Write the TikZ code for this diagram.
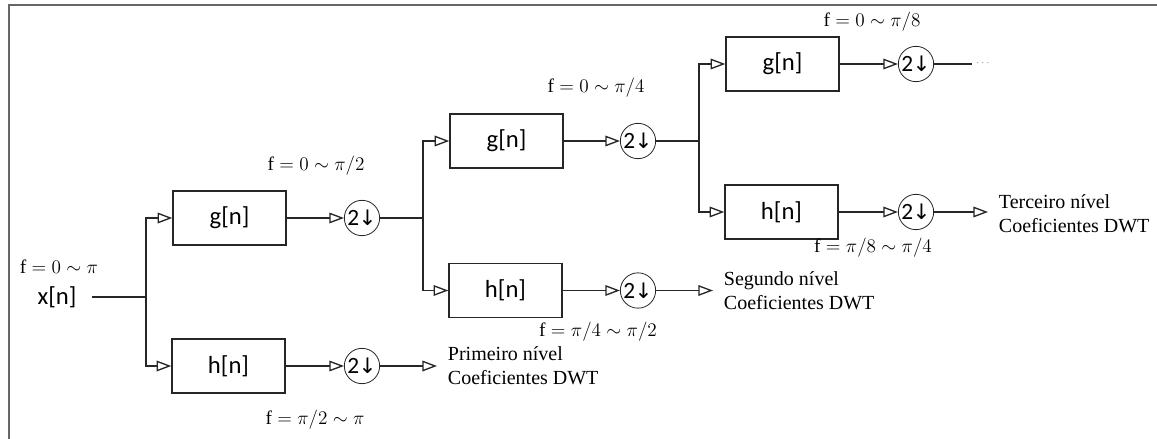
\documentclass[tikz,border=0pt]{standalone}
\usepackage{fontspec}
\setmainfont{Liberation Serif}
\usetikzlibrary{arrows.meta}
\newfontfamily\calib{Carlito}
\newfontfamily\djv{DejaVu Sans}
\begin{document}
\begin{tikzpicture}[x=0.75pt,y=-0.75pt,
  line/.style={draw=black!85, line width=1pt},
  arr/.style={line, -{Triangle[open, length=11pt, width=8pt]}},
  filt/.style={draw=black!85, line width=1.1pt, minimum width=84.75pt, minimum height=40.5pt, inner sep=0pt, font=\calib\fontsize{18.5}{21}\selectfont},
  ds/.style={circle, draw=black!85, line width=0.6pt, minimum size=26.5pt, inner sep=0pt, font=\calib\fontsize{17.5}{19}\selectfont},
  freq/.style={inner sep=0pt, font=\fontsize{14.5}{17}\selectfont},
  outtxt/.style={anchor=west, align=left, inner xsep=8pt, inner ysep=0pt, font=\fontsize{15}{18}\selectfont}]
\useasboundingbox (0,0) rectangle (1157,439);
\draw[draw=black!60, line width=1.5pt] (8.5,439) -- (8.5,4.5) -- (1157,4.5);

% input
\node[inner sep=0pt, outer xsep=12pt, font=\calib\fontsize{18.5}{21}\selectfont] (xn) at (57,297) {x[n]};
\node[freq] (f0) at (59,267) {$\mathrm{f}=0\sim\pi$};
\coordinate (j1) at (146,297);

% level 1
\node[filt] (g1) at (229.5,218) {g[n]};
\node[filt] (h1) at (228.5,366) {h[n]};
\node[ds] (d1) at (362,218) {2\kern-0.5pt{\djv\fontsize{16}{18}\selectfont ↓}};
\node[ds] (d2) at (362,366) {2\kern-0.5pt{\djv\fontsize{16}{18}\selectfont ↓}};
\node[freq] (f1a) at (316,166) {$\mathrm{f}=0\sim\pi/2$};
\node[freq] (f1b) at (315,420) {$\mathrm{f}=\pi/2\sim\pi$};
\node[outtxt] (o1) at (437,366) {Primeiro nível\\Coeficientes DWT};
\coordinate (j2) at (423,218);

% level 2
\node[filt] (g2) at (506.5,141) {g[n]};
\node[filt] (h2) at (505.5,290.5) {h[n]};
\node[ds] (d3) at (638,141) {2\kern-0.5pt{\djv\fontsize{16}{18}\selectfont ↓}};
\node[ds] (d4) at (638,290.5) {2\kern-0.5pt{\djv\fontsize{16}{18}\selectfont ↓}};
\node[freq] (f2a) at (596,88) {$\mathrm{f}=0\sim\pi/4$};
\node[freq] (f2b) at (598,332) {$\mathrm{f}=\pi/4\sim\pi/2$};
\node[outtxt] (o2) at (713,290.5) {Segundo nível\\Coeficientes DWT};
\coordinate (j3) at (699,141);

% level 3
\node[filt] (g3) at (782.5,64) {g[n]};
\node[filt] (h3) at (781.5,212) {h[n]};
\node[ds] (d5) at (916,64) {2\kern-0.5pt{\djv\fontsize{16}{18}\selectfont ↓}};
\node[ds] (d6) at (916,212) {2\kern-0.5pt{\djv\fontsize{16}{18}\selectfont ↓}};
\node[freq] (f3a) at (872,22) {$\mathrm{f}=0\sim\pi/8$};
\node[freq] (f3b) at (873,248) {$\mathrm{f}=\pi/8\sim\pi/4$};
\node[outtxt] (o3) at (988,214) {Terceiro nível\\Coeficientes DWT};
\node[inner sep=0pt, outer xsep=3pt, text=black!60, font=\fontsize{7}{8}\selectfont] (dots) at (983,63) {$\cdots$};

% connectors
\draw[line] (xn) -- (j1);
\draw[arr] (j1) |- (g1.west);
\draw[arr] (j1) |- (h1.west);
\draw[arr] (g1.east) -- (d1.west);
\draw[arr] (h1.east) -- (d2.west);
\draw[arr] (d2.east) -- (o1.west);
\draw[line] (d1.east) -- (j2);
\draw[arr] (j2) |- (g2.west);
\draw[arr] (j2) |- (h2.west);
\draw[arr] (g2.east) -- (d3.west);
\draw[arr] (h2.east) -- (d4.west);
\draw[arr] (d4.east) -- (o2.west);
\draw[line] (d3.east) -- (j3);
\draw[arr] (j3) |- (g3.west);
\draw[arr] (j3) |- (h3.west);
\draw[arr] (g3.east) -- (d5.west);
\draw[arr] (h3.east) -- (d6.west);
\draw[arr] (d6.east) -- (o3.west |- d6.east);
\draw[line] (d5.east) -- (dots.west |- d5.east);
\end{tikzpicture}
\end{document}
